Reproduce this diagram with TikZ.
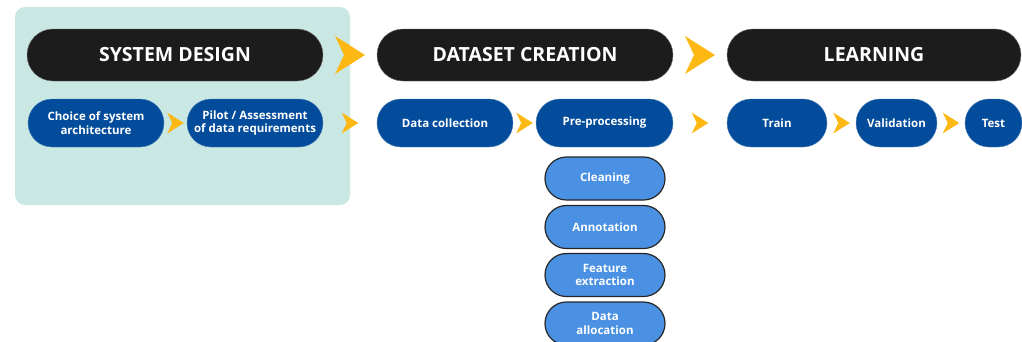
\documentclass[tikz,border=0pt]{standalone}
\usepackage{fontspec}
\setmainfont{Open Sans}
\usetikzlibrary{positioning,calc}

\definecolor{panelcol}{HTML}{C9E8E3}
\definecolor{stagecol}{HTML}{1C1C1C}
\definecolor{stepcol}{HTML}{034C9B}
\definecolor{subcol}{HTML}{4A91E3}
\definecolor{chevcol}{HTML}{FDB813}

\begin{document}
\begin{tikzpicture}[
    x=1pt, y=-1pt,
    stage/.style={
        rectangle,
        rounded corners=25.9pt,
        fill=stagecol,
        draw=black!55,
        text=white,
        minimum width=296pt,
        minimum height=52pt,
        font=\fontsize{19.5}{22}\selectfont\bfseries
    },
    stepbox/.style={
        rectangle,
        rounded corners=23.9pt,
        fill=stepcol,
        draw=stepcol!70!white,
        text=white,
        minimum height=48pt,
        inner sep=1pt,
        align=center,
        font=\fontsize{11.5}{13.5}\selectfont\bfseries
    },
    subbox/.style={
        rectangle,
        rounded corners=21.4pt,
        fill=subcol,
        draw=black!85,
        line width=1.2pt,
        text=white,
        minimum width=120pt,
        minimum height=43pt,
        inner sep=1pt,
        align=center,
        font=\fontsize{11.5}{13.5}\selectfont\bfseries
    },
    chev/.pic={
        \fill[chevcol] (-15,-19) -- (15,0) -- (-15,19) -- (-6,0) -- cycle;
    }
]
\useasboundingbox (0,0) rectangle (1022,341);

% -------- System design panel --------
\fill[panelcol, rounded corners=10pt] (15,7) rectangle (350,205);

% -------- Stages --------
\node[stage] (sys)   at (175,55) {SYSTEM DESIGN};
\node[stage] (data)  at (525,55) {DATASET CREATION};
\node[stage, minimum width=294pt] (learn) at (874,55) {LEARNING};

% -------- Steps --------
\node[stepbox, minimum width=136pt] (choice)  at (96,123)    {Choice of system\\architecture};
\node[stepbox, minimum width=136pt] (pilot)   at (255,123)   {Pilot / Assessment\\of data requirements};
\node[stepbox, minimum width=136pt] (collect) at (445,123)   {Data collection};
\node[stepbox, minimum width=137pt] (prep)    at (604.5,123) {Pre-processing};
\node[stepbox, minimum width=100pt] (train)   at (777,123)   {Train};
\node[stepbox, minimum width=81pt]  (valid)   at (896.5,123) {Validation};
\node[stepbox, minimum width=57pt]  (test)    at (993.5,123) {Test};

% -------- Pre-processing tasks --------
\node[subbox] (clean) at (605,178.5) {Cleaning};
\node[subbox] (annot) at (605,227)   {Annotation};
\node[subbox] (feat)  at (605,275)   {Feature\\extraction};
\node[subbox] (alloc) at (605,323.5) {Data\\allocation};

% -------- Chevrons --------
\path ($(sys.east)!0.5!(data.west)$) pic {chev};
\path ($(data.east)!0.5!(learn.west)$) pic {chev};
\path ($(choice.east)!0.5!(pilot.west)$) pic[scale=0.55] {chev};
\path ($(pilot.east)!0.5!(collect.west)$) pic[scale=0.55] {chev};
\path ($(collect.east)!0.5!(prep.west)$) pic[scale=0.55] {chev};
\path ($(prep.east)!0.5!(train.west)$) pic[scale=0.55] {chev};
\path ($(train.east)!0.5!(valid.west)$) pic[scale=0.55] {chev};
\path ($(valid.east)!0.5!(test.west)$) pic[scale=0.55] {chev};

\end{tikzpicture}
\end{document}
